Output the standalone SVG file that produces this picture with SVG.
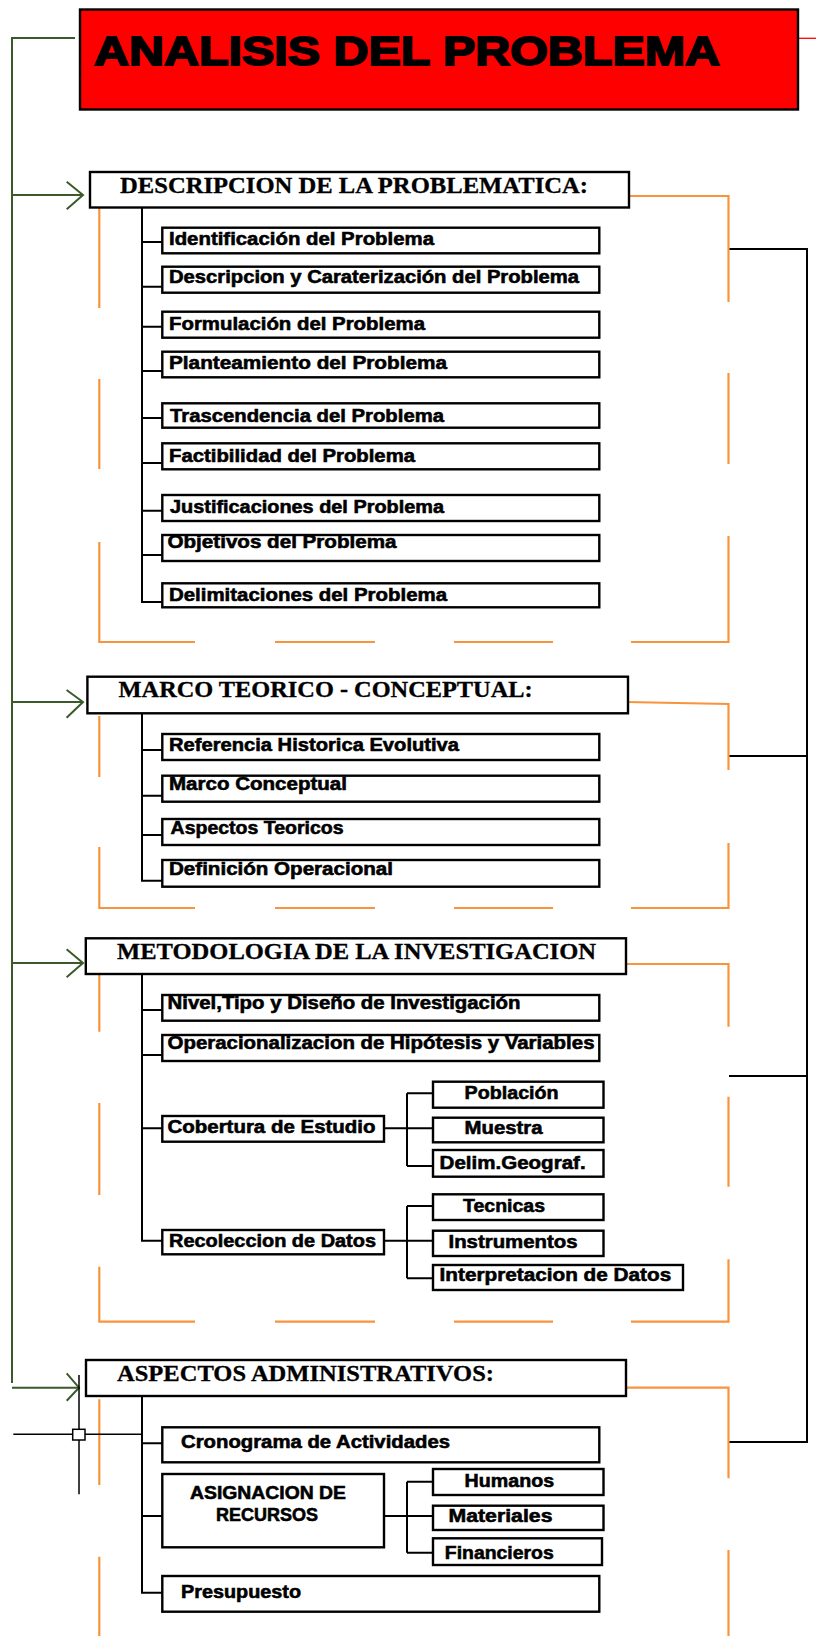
<svg xmlns="http://www.w3.org/2000/svg" width="816" height="1636" viewBox="0 0 816 1636">
<style>
.bx{fill:#fff;stroke:#000;stroke-width:2.4}
.hd{font-family:"Liberation Serif",serif;font-weight:bold;font-size:23px;fill:#000;stroke:#000;stroke-width:0.3}
.it{font-family:"Liberation Sans",sans-serif;font-weight:bold;font-size:17.5px;fill:#000;stroke:#000;stroke-width:0.55}
.bl{fill:none;stroke:#000;stroke-width:2}
.gr{fill:none;stroke:#3b5a2a;stroke-width:2}
.or{fill:none;stroke:#f7943c;stroke-width:2.2}
</style>
<rect width="816" height="1636" fill="#fff"/>

<g id="connectors">
  <path class="gr" d="M75 38H12V1383M12 195H83M66.7 181.7L83 195L66.7 209.3M12 702H83M66.6 690L83 702L66.6 717.7M12 963H83M66.6 949.3L83 963L66.6 977.3M66.7 1373.3L79 1387.7L66.7 1400.7"/>
  <path class="gr" d="M12 1387.7H80" stroke-width="3"/>
  <path d="M798 38.3H816" stroke="#f00" stroke-width="1.3"/>
  <path class="bl" d="M729 249H807V1442H729M729 756H807M729 1076H807"/>
  <path class="or" d="M626 196H728.5V302M728.5 373V464M728.5 536V642H631M553 642H454M375 642H275M195 642H99.3V542M99.3 469V379M99.3 308V208"/>
  <path class="or" d="M626 702L728.5 704V770M728.5 843V908H631M553 908H454M375 908H275M195 908H99.3V847M99.3 777V716"/>
  <path class="or" d="M626 964H728.5V1026.7M728.5 1096.7V1186.7M728.5 1259.3V1321.7H631M553 1321.7H454M375 1321.7H275M195 1321.7H99.3V1266.7M99.3 1195V1103M99.3 1031.7V975"/>
  <path class="or" d="M624.5 1387.7H728.5V1478.3M728.5 1550V1636M99.3 1399.3V1485M99.3 1556.7V1636"/>
  <path class="bl" d="M142 207V602H162M142 242H162M142 286.7H162M142 326.7H162M142 371H162M142 418H162M142 463H162M142 510.7H162M142 555H162"/>
  <path class="bl" d="M142 714V880.7H162M142 750H162M142 795.7H162M142 835H162"/>
  <path class="bl" d="M142 974V1240.7H162M142 1010H162M142 1055H162M142 1128.3H162"/>
  <path class="bl" d="M384 1128.3H433M407 1093.3V1166M407 1093.3H433M407 1166H433"/>
  <path class="bl" d="M384 1240.7H433M407 1206V1278.3M407 1206H433M407 1278.3H433"/>
  <path class="bl" d="M142 1397V1592.7H162M142 1443.3H162M142 1516H162"/>
  <path class="bl" d="M384 1516H433M407 1481.7V1552.7M407 1481.7H433M407 1552.7H433"/>
  <path d="M79 1375V1494.3M13.3 1434.3H142.3" stroke="#000" stroke-width="1.5" fill="none"/>
  <rect x="72.7" y="1429.3" width="12.3" height="10.7" fill="#fff" stroke="#000" stroke-width="1.5"/>
</g>

<g id="title">
  <rect x="80" y="9.5" width="718" height="100" fill="#f00" stroke="#000" stroke-width="2.4"/>
  <text x="94" y="65" font-family="Liberation Sans,sans-serif" font-weight="bold" font-size="40" fill="#000" stroke="#000" stroke-width="1.8" textLength="626" lengthAdjust="spacingAndGlyphs">ANALISIS DEL PROBLEMA</text>
</g>

<g id="descripcion">
  <rect class="bx" x="90" y="172" width="539" height="35.5"/>
  <text class="hd" x="120" y="193" textLength="468" lengthAdjust="spacingAndGlyphs">DESCRIPCION DE LA PROBLEMATICA:</text>
</g>
<g id="identificacion"><rect class="bx" x="162.3" y="227.7" width="437" height="25.6"/><text class="it" x="169" y="245" textLength="265" lengthAdjust="spacingAndGlyphs">Identificación del Problema</text></g>
<g id="caracterizacion"><rect class="bx" x="162.3" y="266.7" width="437" height="26"/><text class="it" x="169" y="283" textLength="410" lengthAdjust="spacingAndGlyphs">Descripcion y Caraterización del Problema</text></g>
<g id="formulacion"><rect class="bx" x="162.3" y="311.7" width="437" height="26"/><text class="it" x="169" y="330" textLength="256" lengthAdjust="spacingAndGlyphs">Formulación del Problema</text></g>
<g id="planteamiento"><rect class="bx" x="162.3" y="351.7" width="437" height="25.6"/><text class="it" x="169" y="369.3" textLength="278" lengthAdjust="spacingAndGlyphs">Planteamiento del Problema</text></g>
<g id="trascendencia"><rect class="bx" x="162.3" y="403.3" width="437" height="24.4"/><text class="it" x="170" y="421.7" textLength="274" lengthAdjust="spacingAndGlyphs">Trascendencia del Problema</text></g>
<g id="factibilidad"><rect class="bx" x="162.3" y="443.3" width="437" height="26"/><text class="it" x="169" y="461.7" textLength="246" lengthAdjust="spacingAndGlyphs">Factibilidad del Problema</text></g>
<g id="justificaciones"><rect class="bx" x="162.3" y="495" width="437" height="26"/><text class="it" x="170" y="512.7" textLength="274" lengthAdjust="spacingAndGlyphs">Justificaciones del Problema</text></g>
<g id="objetivos"><rect class="bx" x="162.3" y="535" width="437" height="26"/><text class="it" x="167.5" y="548.3" textLength="229" lengthAdjust="spacingAndGlyphs">Objetivos del Problema</text></g>
<g id="delimitaciones"><rect class="bx" x="162.3" y="583.3" width="437" height="24"/><text class="it" x="169" y="601" textLength="278" lengthAdjust="spacingAndGlyphs">Delimitaciones del Problema</text></g>

<g id="marco">
  <rect class="bx" x="87.4" y="676.7" width="540.6" height="36.6"/>
  <text class="hd" x="118.6" y="696.7" textLength="414" lengthAdjust="spacingAndGlyphs">MARCO TEORICO - CONCEPTUAL:</text>
</g>
<g id="referencia"><rect class="bx" x="162.3" y="734" width="437" height="26"/><text class="it" x="169" y="751" textLength="290" lengthAdjust="spacingAndGlyphs">Referencia Historica Evolutiva</text></g>
<g id="marcoconceptual"><rect class="bx" x="162.3" y="775.7" width="437" height="26"/><text class="it" x="169" y="790" textLength="178" lengthAdjust="spacingAndGlyphs">Marco Conceptual</text></g>
<g id="aspectosteoricos"><rect class="bx" x="162.3" y="819" width="437" height="26"/><text class="it" x="170.6" y="834" textLength="173" lengthAdjust="spacingAndGlyphs">Aspectos Teoricos</text></g>
<g id="definicion"><rect class="bx" x="162.3" y="860" width="437" height="26.7"/><text class="it" x="169" y="875" textLength="224" lengthAdjust="spacingAndGlyphs">Definición Operacional</text></g>

<g id="metodologia">
  <rect class="bx" x="85.8" y="938.3" width="540.2" height="35.7"/>
  <text class="hd" x="117" y="959.3" textLength="479" lengthAdjust="spacingAndGlyphs">METODOLOGIA DE LA INVESTIGACION</text>
</g>
<g id="nivel"><rect class="bx" x="162.3" y="995" width="437" height="25.7"/><text class="it" x="167.5" y="1009" textLength="353" lengthAdjust="spacingAndGlyphs">Nivel,Tipo y Diseño de Investigación</text></g>
<g id="operacionalizacion"><rect class="bx" x="162.3" y="1035" width="437" height="26"/><text class="it" x="167.5" y="1049.3" textLength="427" lengthAdjust="spacingAndGlyphs">Operacionalizacion de Hipótesis y Variables</text></g>
<g id="cobertura"><rect class="bx" x="162.3" y="1116" width="221.7" height="25.7"/><text class="it" x="167.5" y="1133.3" textLength="208" lengthAdjust="spacingAndGlyphs">Cobertura de Estudio</text></g>
<g id="poblacion"><rect class="bx" x="433" y="1081.7" width="170.5" height="26"/><text class="it" x="464.6" y="1099.3" textLength="94" lengthAdjust="spacingAndGlyphs">Población</text></g>
<g id="muestra"><rect class="bx" x="433" y="1117.7" width="170.5" height="24.6"/><text class="it" x="464.6" y="1134.3" textLength="78" lengthAdjust="spacingAndGlyphs">Muestra</text></g>
<g id="delimgeograf"><rect class="bx" x="433" y="1150" width="170.5" height="26.7"/><text class="it" x="439.6" y="1169.3" textLength="146" lengthAdjust="spacingAndGlyphs">Delim.Geograf.</text></g>
<g id="recoleccion"><rect class="bx" x="162.3" y="1230" width="221.7" height="24.3"/><text class="it" x="169" y="1246.7" textLength="207" lengthAdjust="spacingAndGlyphs">Recoleccion de Datos</text></g>
<g id="tecnicas"><rect class="bx" x="433" y="1194.3" width="170.5" height="25.7"/><text class="it" x="463" y="1212.3" textLength="82" lengthAdjust="spacingAndGlyphs">Tecnicas</text></g>
<g id="instrumentos"><rect class="bx" x="433" y="1230.7" width="170.5" height="25.3"/><text class="it" x="448.5" y="1248.3" textLength="129" lengthAdjust="spacingAndGlyphs">Instrumentos</text></g>
<g id="interpretacion"><rect class="bx" x="433" y="1265" width="250" height="25"/><text class="it" x="439.6" y="1281" textLength="231.6" lengthAdjust="spacingAndGlyphs">Interpretacion de Datos</text></g>

<g id="aspectosadmin">
  <rect class="bx" x="86" y="1360" width="540" height="36"/>
  <text class="hd" x="117" y="1381" textLength="377" lengthAdjust="spacingAndGlyphs">ASPECTOS ADMINISTRATIVOS:</text>
</g>
<g id="cronograma"><rect class="bx" x="162.3" y="1427.3" width="437" height="35"/><text class="it" x="181" y="1448.3" textLength="269" lengthAdjust="spacingAndGlyphs">Cronograma de Actividades</text></g>
<g id="asignacion"><rect class="bx" x="162.3" y="1474" width="221.7" height="73.3"/><text class="it" x="190" y="1499" textLength="156" lengthAdjust="spacingAndGlyphs">ASIGNACION DE</text><text class="it" x="216" y="1520.7" textLength="102" lengthAdjust="spacingAndGlyphs">RECURSOS</text></g>
<g id="humanos"><rect class="bx" x="433" y="1469" width="170.5" height="26"/><text class="it" x="464.6" y="1487.3" textLength="89.5" lengthAdjust="spacingAndGlyphs">Humanos</text></g>
<g id="materiales"><rect class="bx" x="433" y="1505.7" width="170.5" height="24.3"/><text class="it" x="448.5" y="1521.7" textLength="104" lengthAdjust="spacingAndGlyphs">Materiales</text></g>
<g id="financieros"><rect class="bx" x="433" y="1538.3" width="169" height="26.7"/><text class="it" x="444.8" y="1559.3" textLength="109" lengthAdjust="spacingAndGlyphs">Financieros</text></g>
<g id="presupuesto"><rect class="bx" x="162.3" y="1576" width="437" height="35.7"/><text class="it" x="181" y="1597.7" textLength="120" lengthAdjust="spacingAndGlyphs">Presupuesto</text></g>
</svg>
